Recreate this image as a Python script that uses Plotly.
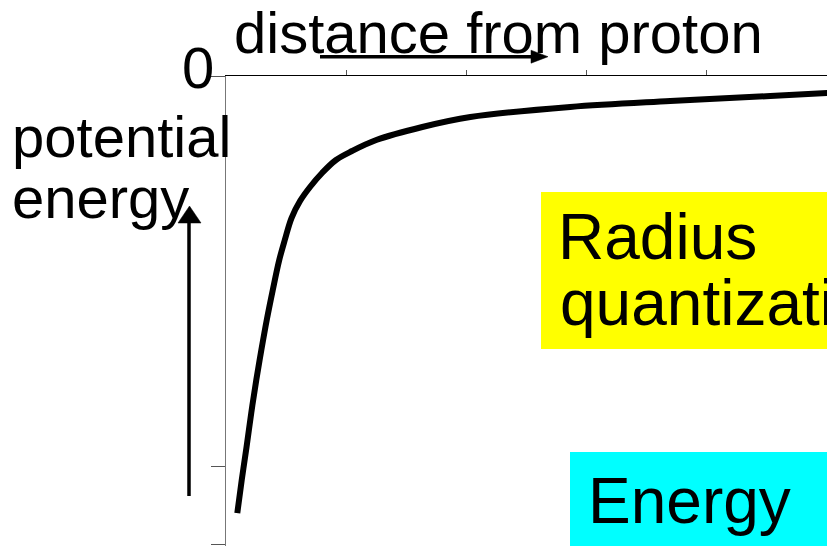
import plotly.graph_objects as go

# ---- data (axis units: x ticks = 1 unit, y ticks = 1 unit) ----
distance = [0.094, 0.131, 0.171, 0.210, 0.252, 0.294, 0.339, 0.389, 0.443, 0.489,
            0.545, 0.616, 0.699, 0.799, 0.915, 1.048, 1.250, 1.633, 2.033, 2.864,
            3.696, 4.528, 5.002]
potential = [-5.603, -5.179, -4.756, -4.321, -3.897, -3.513, -3.128, -2.744, -2.359,
             -2.103, -1.821, -1.603, -1.423, -1.244, -1.077, -0.962, -0.821, -0.654,
             -0.526, -0.397, -0.321, -0.256, -0.218]
x_tickvals = [1, 2, 3, 4, 5]
y_tickvals = [0, -5, -6]

# ---- layout geometry (pixels) ----
FW, FH = 827, 546
L, T = 226, 76
W = FW - L
PH = FH - T
FONT = "Liberation Sans, Arial, sans-serif"


def px(x):
    return (x - L) / W


def py(y):
    return (FH - y) / PH


fig = go.Figure()
fig.add_trace(go.Scatter(
    x=distance, y=potential, mode="lines",
    line=dict(color="black", width=6, shape="spline", smoothing=1.0),
    hoverinfo="skip", showlegend=False,
))

shapes = [
    # yellow and cyan boxes
    dict(type="rect", xref="paper", yref="paper", x0=px(541), x1=px(900), y0=py(349), y1=py(192),
         fillcolor="#FFFF00", line=dict(width=0), layer="above"),
    dict(type="rect", xref="paper", yref="paper", x0=px(570), x1=px(900), y0=py(580), y1=py(452),
         fillcolor="#00FFFF", line=dict(width=0), layer="above"),
    # horizontal arrow under title
    dict(type="line", xref="paper", yref="paper", x0=px(320), x1=px(533), y0=py(56.7), y1=py(56.7),
         line=dict(color="black", width=3.5)),
    dict(type="path", xref="paper", yref="paper",
         path=f"M {px(531)} {py(50.2)} L {px(548)} {py(56.7)} L {px(531)} {py(63.2)} Z",
         fillcolor="black", line=dict(color="black", width=0.5)),
    # vertical arrow
    dict(type="line", xref="paper", yref="paper", x0=px(189), x1=px(189), y0=py(496), y1=py(220),
         line=dict(color="black", width=3.5)),
    dict(type="path", xref="paper", yref="paper",
         path=f"M {px(178)} {py(223)} L {px(189.5)} {py(206)} L {px(201)} {py(223)} Z",
         fillcolor="black", line=dict(color="black", width=0.5)),
]


def label(text, x, yc, size, anchor="left"):
    return dict(text=text, xref="paper", yref="paper", x=px(x), y=py(yc),
                xanchor=anchor, yanchor="middle", showarrow=False,
                font=dict(family=FONT, size=size, color="black"),
                borderpad=0, borderwidth=0)


annotations = [
    label("distance from proton", 233.5, 32.6, 58),
    label("0", 213.5, 88 - 0.3465 * 58, 58, anchor="right"),
    label("potential", 11.5, 157 - 0.3465 * 58, 58),
    label("energy", 11.5, 218 - 0.3465 * 58, 58),
    label("Radius", 558, 259 - 0.3465 * 64, 64),
    label("quantization", 559.5, 325 - 0.3465 * 64, 64),
    label("Energy", 588, 523 - 0.3465 * 64, 64),
]

fig.update_layout(
    width=FW, height=FH,
    margin=dict(l=L, r=0, t=T, b=0, pad=0),
    paper_bgcolor="white", plot_bgcolor="white",
    showlegend=False,
    shapes=shapes,
    annotations=annotations,
    xaxis=dict(
        side="top", range=[0, W / 120.2], tickvals=x_tickvals, showticklabels=False,
        ticks="outside", ticklen=5, tickwidth=1, tickcolor="#555555",
        showline=True, linecolor="black", linewidth=1,
        showgrid=False, zeroline=False, fixedrange=True,
    ),
    yaxis=dict(
        range=[-PH / 78.0, 0], tickvals=y_tickvals, showticklabels=False,
        ticks="outside", ticklen=14, tickwidth=1, tickcolor="#555555",
        showline=True, linecolor="#777777", linewidth=1,
        showgrid=False, zeroline=False, fixedrange=True,
    ),
)

fig.write_html(
    "out.html",
    config={"displayModeBar": False},
    post_script="document.body.style.margin='0';document.body.style.overflow='hidden';",
)
